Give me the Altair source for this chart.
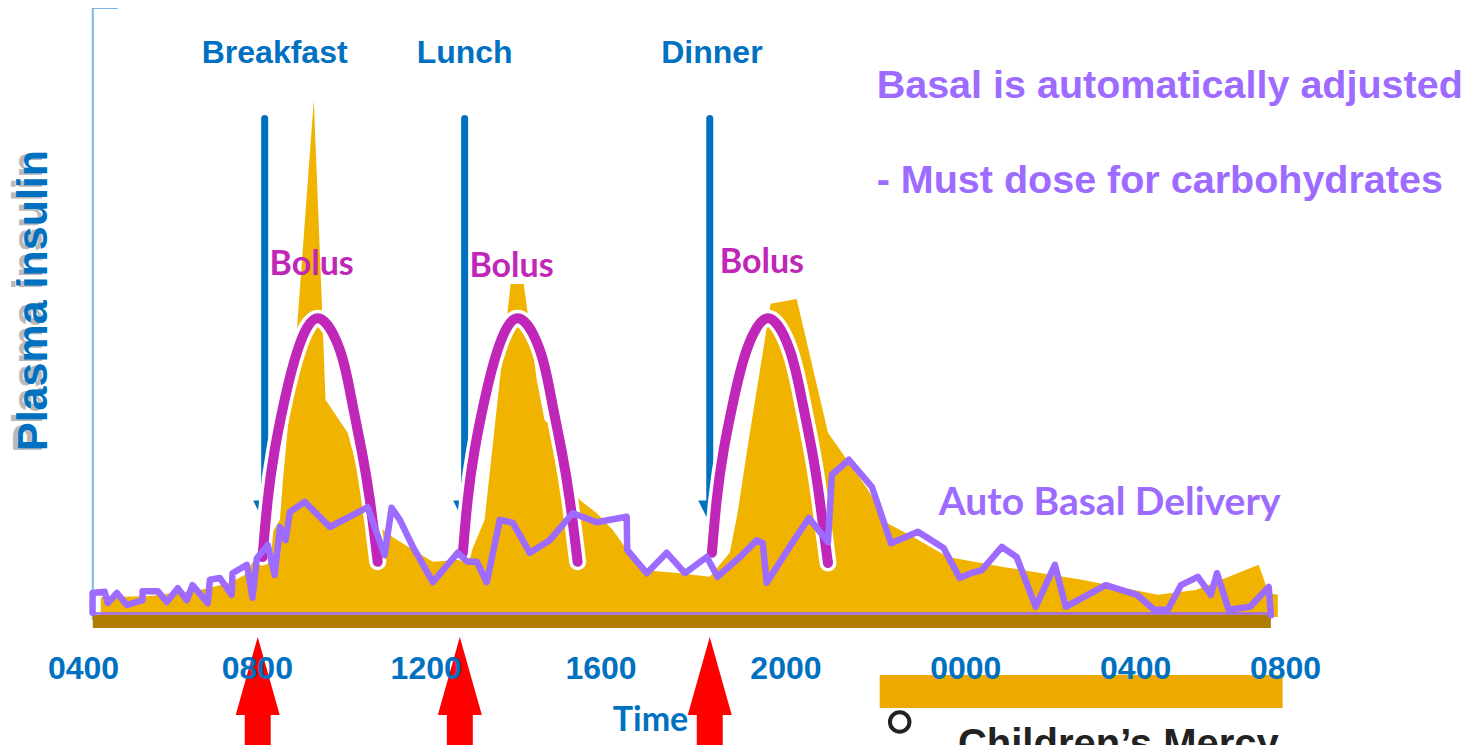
import altair as alt
import pandas as pd

# ---------------- data ----------------
# x = clock hour (4 = 04:00 ... 32 = 08:00 next day), y = relative level
insulin_h = [4.41, 5.54, 6.69, 7.38, 7.72, 7.91, 8.25, 8.53, 8.60, 8.92,
             9.31, 9.52, 9.58, 10.09, 10.30, 10.60, 10.90, 11.13, 11.59, 12.05,
             12.60, 12.90, 13.24, 13.59, 13.84, 14.14, 14.23, 14.44, 14.62, 14.81,
             15.13, 15.43, 15.82, 16.19, 16.51, 16.97, 17.73, 18.42, 18.88, 19.06,
             19.29, 19.82, 20.42, 21.14, 22.06, 22.49, 23.11, 23.90, 25.21,
             26.98, 28.73, 29.60, 31.05, 31.28, 31.49]
insulin_v = [3.8, 4.0, 5.0, 6.2, 7.5, 9.7, 13.3, 16.7, 23.3, 48.3,
             86.7, 48.3, 36.7, 31.2, 25.5, 19.2, 15.0, 13.8, 11.7, 9.7,
             10.0, 10.8, 16.7, 40.0, 56.0, 56.0, 51.2, 40.0, 33.3, 32.2,
             23.3, 20.0, 17.8, 15.0, 11.7, 8.3, 7.8, 7.2, 11.2, 17.8,
             28.8, 52.7, 53.5, 31.2, 21.7, 16.2, 13.8, 10.5, 8.8,
             6.7, 4.2, 5.0, 9.2, 4.5, 4.2]

basal_h = [4.22, 4.22, 4.50, 4.57, 4.78, 5.01, 5.37, 5.37, 5.72, 5.93,
           6.18, 6.39, 6.52, 6.87, 6.92, 7.15, 7.42, 7.44, 7.77, 7.90,
           8.00, 8.25, 8.41, 8.53, 8.66, 8.76, 9.10, 9.68, 10.55, 10.76,
           10.94, 11.10, 11.29, 11.59, 12.05, 12.62, 12.85, 13.06, 13.29, 13.59,
           13.89, 14.28, 14.74, 15.27, 15.82, 16.51, 16.52, 16.97, 17.43, 17.85,
           18.35, 18.60, 19.16, 19.50, 19.64, 19.73, 20.26, 20.70, 21.14, 21.23,
           21.62, 22.15, 22.59, 23.21, 23.80, 24.17, 24.43, 24.68, 25.14, 25.48,
           25.92, 26.36, 26.61, 27.53, 28.25, 28.64, 28.96, 29.26, 29.65, 29.95,
           30.09, 30.36, 30.85, 31.28, 31.33]
basal_v = [1.2, 4.5, 4.7, 2.8, 4.5, 2.5, 3.3, 4.8, 4.8, 3.0,
           5.3, 3.3, 5.8, 2.8, 6.7, 7.0, 4.2, 7.8, 9.2, 3.7,
           10.3, 12.5, 7.5, 15.5, 13.3, 18.0, 19.7, 15.5, 18.8, 14.5,
           10.8, 18.7, 16.7, 12.2, 6.3, 11.2, 9.7, 9.7, 6.3, 16.7,
           16.2, 11.2, 13.3, 17.8, 16.3, 17.2, 11.7, 7.8, 11.2, 7.8,
           10.5, 7.2, 10.8, 13.3, 12.8, 6.2, 12.2, 17.0, 13.0, 24.2,
           26.7, 22.2, 12.8, 14.7, 12.0, 7.0, 7.8, 8.3, 12.2, 10.5,
           2.2, 9.2, 2.2, 5.8, 4.2, 1.7, 1.7, 5.8, 7.2, 4.2,
           7.8, 1.7, 2.2, 5.5, 0.8]

bolus_breakfast_h = [8.13, 8.25, 8.41, 8.64, 8.94, 9.40, 9.91, 10.18, 10.41, 10.60, 10.78]
bolus_breakfast_v = [10.5, 20.0, 28.3, 36.7, 45.0, 50.3, 45.0, 36.7, 28.3, 20.0, 9.7]
bolus_lunch_h = [12.74, 12.85, 13.01, 13.24, 13.54, 14.00, 14.51, 14.78, 15.01, 15.20, 15.38]
bolus_lunch_v = [11.2, 20.0, 28.3, 36.7, 45.0, 50.3, 45.0, 36.7, 28.3, 20.0, 9.7]
bolus_dinner_h = [18.47, 18.58, 18.74, 18.97, 19.27, 19.76, 20.26, 20.54, 20.77, 20.95, 21.14]
bolus_dinner_v = [11.2, 20.0, 28.3, 36.7, 45.0, 50.3, 45.0, 36.7, 28.3, 20.0, 9.5]

meal_names = ["Breakfast", "Lunch", "Dinner"]
meal_label_h = [8.41, 12.78, 18.47]
meal_arrow_h = [8.18, 12.78, 18.42]
bolus_label_h = [9.26, 13.86, 19.62]
bolus_label_v = [59.2, 58.8, 59.5]
red_arrow_h = [8.02, 12.67, 18.42]
tick_hours = [4, 8, 12, 16, 20, 24, 28, 32]
notes = ["Basal is automatically adjusted", "- Must dose for carbohydrates"]
notes_v = [89.0, 73.2]

BLUE = "#0070C0"
GOLD = "#F0B400"
MAGENTA = "#C026B8"
PURPLE = "#9D6BFF"
ARIAL = "Liberation Sans"
COMIC = "Comic Sans MS, Lato"

XS = alt.Scale(domain=[4, 32], nice=False, zero=False)
YS = alt.Scale(domain=[0, 102], nice=False, zero=False)


def ex(f="h"):
    return alt.X(f"{f}:Q", scale=XS)


def ey(f="v"):
    return alt.Y(f"{f}:Q", scale=YS)


# slide-style hand placement of a few tick labels
label_shift = {
    "condition": [
        {"test": "datum.value == 12", "value": -5},
        {"test": "datum.value == 16", "value": -4},
        {"test": "datum.value == 20", "value": 7},
        {"test": "datum.value == 24", "value": 13},
        {"test": "datum.value == 28", "value": 9},
        {"test": "datum.value == 32", "value": -15},
    ],
    "value": 0,
}

# ---------------- layers ----------------
ins_df = pd.DataFrame({"h": insulin_h, "v": insulin_v})
area = alt.Chart(ins_df).mark_area(color=GOLD, interpolate="linear").encode(
    x=alt.X("h:Q", scale=XS, axis=alt.Axis(
        values=tick_hours,
        labelExpr="(datum.value % 24 < 10 ? '0' : '') + (datum.value % 24) + '00'",
        labelFont=ARIAL, labelFontSize=32, labelFontWeight="bold", labelColor=BLUE,
        labelPadding=48, labelBaseline="middle", labelFlush=False, labelOverlap=False,
        labelBound=False, labelOffset=label_shift, domain=False, ticks=False,
        tickSize=0, grid=False,
        title="Time", titleFont=COMIC, titleFontSize=34, titleFontWeight="bold",
        titleColor=BLUE, titleX=567, titleY=100, titleBaseline="middle",
        titleAlign="center", zindex=1)),
    y=alt.Y("v:Q", scale=YS, axis=alt.Axis(
        title="Plasma insulin", labels=False, ticks=False, domain=False, grid=False,
        titleFont=ARIAL, titleFontSize=43, titleFontWeight="bold", titleColor=BLUE,
        titleAngle=270, titleX=-50, titleY=292, titleAlign="center",
        titleBaseline="middle", zindex=1)),
    y2=alt.datum(0.5),
)

yaxis_df = pd.DataFrame({"h": [4.225], "v": [102.0], "v2": [0.0]})
yaxis_line = alt.Chart(yaxis_df).mark_rule(color="#7FB3E3", strokeWidth=2).encode(
    x=ex(), y=ey(), y2=alt.Y2("v2:Q"))
ytick_df = pd.DataFrame({"h": [4.225], "h2": [4.80], "v": [102.0]})
ytick = alt.Chart(ytick_df).mark_rule(color="#7FB3E3", strokeWidth=2).encode(
    x=ex(), x2=alt.X2("h2:Q"), y=ey())

base_df = pd.DataFrame({"h": [4.225], "h2": [31.33], "v": [-0.25], "v3": [1.1]})
base_purple = alt.Chart(base_df).mark_rule(color=PURPLE, strokeWidth=2.5).encode(
    x=ex(), x2=alt.X2("h2:Q"), y=ey("v3"))
base_bar = alt.Chart(base_df).mark_rule(color="#B07D00", strokeWidth=13).encode(
    x=ex(), x2=alt.X2("h2:Q"), y=ey())

arrow_df = pd.DataFrame({"h": meal_arrow_h, "top": [83.6] * 3, "bot": [19.5] * 3,
                         "head": [18.0] * 3})
blue_shaft = alt.Chart(arrow_df).mark_rule(color=BLUE, strokeWidth=7,
                                           strokeCap="round").encode(
    x=ex(), y=ey("top"), y2=alt.Y2("bot:Q"))
blue_head = alt.Chart(arrow_df).mark_point(
    shape="M-1,-1 L1,-1 L0,1 Z", filled=True, size=529, color=BLUE, opacity=1
).encode(x=ex(), y=ey("head"))

bolus_rows = []
for name, hs, vs in [("Breakfast", bolus_breakfast_h, bolus_breakfast_v),
                     ("Lunch", bolus_lunch_h, bolus_lunch_v),
                     ("Dinner", bolus_dinner_h, bolus_dinner_v)]:
    for i, (h, v) in enumerate(zip(hs, vs)):
        bolus_rows.append({"meal": name, "i": i, "h": h, "v": v})
bolus_df = pd.DataFrame(bolus_rows)
bolus_halo = alt.Chart(bolus_df).mark_line(
    color="white", strokeWidth=17, strokeCap="round", interpolate="natural"
).encode(x=ex(), y=ey(), detail="meal:N", order="i:Q")
bolus_line = alt.Chart(bolus_df).mark_line(
    color=MAGENTA, strokeWidth=10, strokeCap="round", interpolate="natural"
).encode(x=ex(), y=ey(), detail="meal:N", order="i:Q")

basal_df = pd.DataFrame({"h": basal_h, "v": basal_v, "i": range(len(basal_h))})
basal_line = alt.Chart(basal_df).mark_line(
    color=PURPLE, strokeWidth=6.5, strokeJoin="round", strokeCap="round"
).encode(x=ex(), y=ey(), order="i:Q")

red_df = pd.DataFrame({"h": red_arrow_h, "v": [-12.0] * 3})
red_arrows = alt.Chart(red_df).mark_point(
    shape="M0,-1 L0.4,0.418 L0.236,0.418 L0.236,1 L-0.236,1 L-0.236,0.418 L-0.4,0.418 Z",
    filled=True, size=12100, color="#FF0000", opacity=1, strokeWidth=0
).encode(x=ex(), y=ey())

band_df = pd.DataFrame({"h": [22.33], "h2": [31.60], "v": [-9.17], "v2": [-14.67]})
band = alt.Chart(band_df).mark_rect(color="#EEAA00").encode(
    x=ex(), x2=alt.X2("h2:Q"), y=ey(), y2=alt.Y2("v2:Q"))

meal_df = pd.DataFrame({"h": meal_label_h, "v": [94.5] * 3, "t": meal_names})
meal_text = alt.Chart(meal_df).mark_text(
    font=ARIAL, fontSize=32, fontWeight="bold", color=BLUE, align="center",
    baseline="middle").encode(x=ex(), y=ey(), text="t:N")

bl_df = pd.DataFrame({"h": bolus_label_h, "v": bolus_label_v, "t": ["Bolus"] * 3})
bolus_text = alt.Chart(bl_df).mark_text(
    font=COMIC, fontSize=34, fontWeight="bold", color=MAGENTA, align="center",
    baseline="middle").encode(x=ex(), y=ey(), text="t:N")

abd_df = pd.DataFrame({"h": [27.62], "v": [19.5], "t": ["Auto Basal Delivery"]})
abd_text = alt.Chart(abd_df).mark_text(
    font=COMIC, fontSize=39, fontWeight="bold", color=PURPLE, align="center",
    baseline="middle").encode(x=ex(), y=ey(), text="t:N")

notes_df = pd.DataFrame({"h": [22.26] * 2, "v": notes_v, "t": notes})
notes_text = alt.Chart(notes_df).mark_text(
    font=ARIAL, fontSize=39.5, fontWeight="bold", color=PURPLE, align="left",
    baseline="middle").encode(x=ex(), y=ey(), text="t:N")

shadow_df = pd.DataFrame({"h": [2.84], "v": [53.33], "t": ["Plasma insulin"]})
shadow_text = alt.Chart(shadow_df).mark_text(
    font=ARIAL, fontSize=43, fontWeight="bold", color="#A8A8A8", opacity=0.8,
    angle=270, align="center", baseline="middle", dx=-2, dy=-4
).encode(x=ex(), y=ey(), text="t:N")

logo_df = pd.DataFrame({"h": [24.13], "v": [-22.83], "t": ["Children\u2019s Mercy"]})
logo_text = alt.Chart(logo_df).mark_text(
    font=ARIAL, fontSize=40, fontWeight="bold", color="#222222", align="left",
    baseline="alphabetic").encode(x=ex(), y=ey(), text="t:N")
icon_df = pd.DataFrame({"h": [22.79], "v": [-17.0]})
logo_icon = alt.Chart(icon_df).mark_point(
    shape="circle", size=380, color="#222222", strokeWidth=4, filled=False, opacity=1
).encode(x=ex(), y=ey())

chart = alt.layer(
    area, yaxis_line, ytick, base_purple, base_bar, blue_shaft, blue_head,
    bolus_halo, bolus_line, basal_line, red_arrows, band, shadow_text,
    meal_text, bolus_text, abd_text, notes_text, logo_text, logo_icon,
).properties(
    width=1217, height=612, autosize="none",
    padding={"left": 75, "top": 0, "right": 170, "bottom": 125},
    background="white",
).configure_view(stroke=None).configure_axis(grid=False, domain=False, ticks=False)

chart.save("out.html", embed_options={"renderer": "svg", "actions": False})
